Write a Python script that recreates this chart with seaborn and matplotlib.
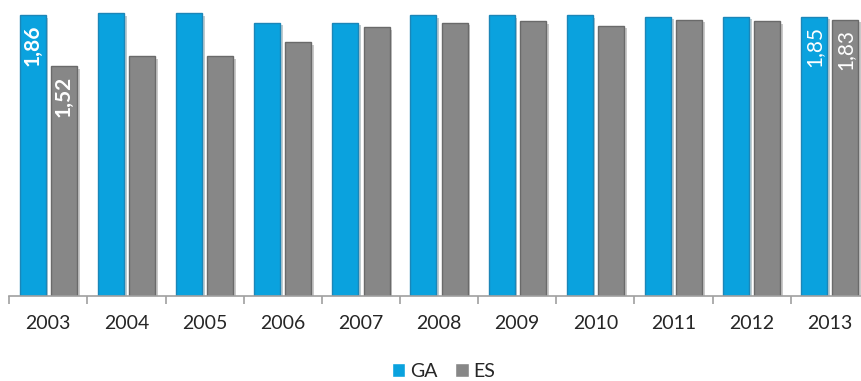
import numpy as np
import pandas as pd
import seaborn as sns
import matplotlib.pyplot as plt
import matplotlib.patheffects as pe

years = ['2003', '2004', '2005', '2006', '2007', '2008', '2009', '2010', '2011', '2012', '2013']
ga = [1.86, 1.87, 1.87, 1.81, 1.81, 1.86, 1.86, 1.86, 1.85, 1.85, 1.85]
es = [1.52, 1.59, 1.59, 1.68, 1.78, 1.81, 1.82, 1.79, 1.83, 1.82, 1.83]
series = ['GA', 'ES']
colors = {'GA': '#0aa2de', 'ES': '#878787'}
edges = {'GA': '#1b86b8', 'ES': '#6a6a6a'}
# which values get a label, and whether bold
labelled = {'2003': True, '2013': False}

sns.set_style('white')
plt.rcParams['font.family'] = ['Lato', 'DejaVu Sans']

df = pd.DataFrame({
    'year': years * 2,
    'value': ga + es,
    'serie': ['GA'] * len(years) + ['ES'] * len(years),
})

fig = plt.figure(figsize=(8.61, 3.81), dpi=100)
ax = fig.add_axes([9.2 / 861, 85 / 381, 859.7 / 861, 296 / 381])

sns.barplot(data=df, x='year', y='value', hue='serie', hue_order=series,
            palette=colors, width=0.8, gap=0.17, ax=ax, legend=True,
            saturation=1)

for cont, name in zip(ax.containers, series):
    for bar, yr in zip(cont, years):
        bar.set_edgecolor(edges[name])
        bar.set_linewidth(1.0)
        bar.set_path_effects([pe.SimplePatchShadow(offset=(2, -2), alpha=0.25),
                              pe.Normal()])
        if yr in labelled:
            h = bar.get_height()
            ax.annotate(f'{h:.2f}'.replace('.', ','),
                        xy=(bar.get_x() + bar.get_width() / 2, h),
                        xytext=(0, -7), textcoords='offset points',
                        rotation=90, ha='center', va='top', color='white',
                        fontsize=15,
                        fontweight='bold' if labelled[yr] else 'normal')

ax.set_ylim(0, 296 / 151.08)
ax.set_xlim(-0.5, 10.5)
ax.set_xlabel('')
ax.set_ylabel('')
ax.set_yticks([])
for s in ['left', 'right', 'top']:
    ax.spines[s].set_visible(False)
ax.spines['bottom'].set_color('#a0a0a0')
ax.spines['bottom'].set_linewidth(1.2)

ax.set_xticks(range(len(years)))
ax.set_xticklabels(years, fontsize=14)
ax.tick_params(axis='x', which='major', length=0, pad=14)
ax.set_xticks(np.arange(-0.5, len(years), 1.0), minor=True)
ax.tick_params(axis='x', which='minor', length=6, width=1.2, color='#a0a0a0',
               direction='out', bottom=True)

handles, labels = ax.get_legend_handles_labels()
ax.legend(handles, labels, loc='center', bbox_to_anchor=(0.515, 0.025),
          bbox_transform=fig.transFigure, ncol=2, frameon=False,
          handlelength=0.7, handleheight=0.7, handletextpad=0.25,
          columnspacing=0.9, fontsize=14)

fig.savefig('out.png', dpi=100)
